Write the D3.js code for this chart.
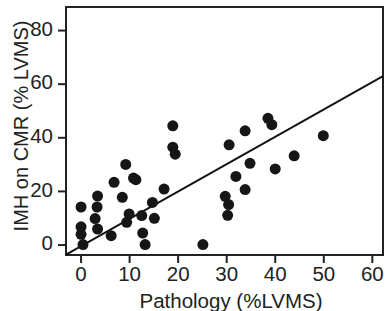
<!DOCTYPE html>
<html>
<head>
<meta charset="utf-8">
<script src="https://cdn.jsdelivr.net/npm/d3@7"></script>
<style>
  html, body { margin: 0; padding: 0; background: #fff; }
  svg { display: block; }
  text { font-family: "Liberation Sans", Arial, sans-serif; fill: #222; }
</style>
</head>
<body>
<svg id="chart" width="386" height="311"></svg>
<script>
// ---- data ----
const pathology = [19.0, 19.0, 19.5, 9.3, 6.9, 10.9, 11.4, 17.2, 3.5, 8.6,
                   0.1, 3.4, 14.8, 10.0, 3.0, 12.6, 15.2, 9.5, 0.1, 3.5,
                   0.1, 6.3, 12.8, 0.5, 13.3, 25.2, 38.6, 39.4, 33.9, 30.6,
                   44.0, 34.9, 40.1, 32.0, 33.9, 29.8, 30.5, 30.3, 50.0];
const imhCmr    = [44.3, 36.3, 33.7, 29.9, 23.2, 24.8, 24.2, 20.7, 18.1, 17.6,
                   14.0, 14.0, 15.7, 11.4, 9.7, 10.8, 9.8, 8.3, 6.6, 5.8,
                   3.8, 3.3, 4.3, 0.0, 0.0, 0.0, 47.1, 44.7, 42.4, 37.2,
                   33.1, 30.3, 28.2, 25.4, 20.5, 18.0, 14.9, 10.9, 40.6];
const xTicks = [0, 10, 20, 30, 40, 50, 60];
const yTicks = [0, 20, 40, 60, 80];
const fitSlope = 1.02;
const fitIntercept = -0.7;
const xTitle = "Pathology (%LVMS)";
const yTitle = "IMH on CMR (% LVMS)";

// ---- layout ----
const svg = d3.select("#chart");
const L = 66, R = 383, T = 7, B = 255;
const x = d3.scaleLinear().domain([-3.0, 62.3]).range([L, R]);
const y = d3.scaleLinear().domain([-3.9, 88.6]).range([B, T]);
const ink = "#222";

svg.append("defs").append("clipPath").attr("id", "clip")
  .append("rect").attr("x", L).attr("y", T).attr("width", R - L).attr("height", B - T);

// frame
svg.append("rect").attr("x", L).attr("y", T).attr("width", R - L).attr("height", B - T)
  .attr("fill", "none").attr("stroke", ink).attr("stroke-width", 2);

// axes
const xAxis = svg.append("g").attr("transform", `translate(0,${B})`)
  .call(d3.axisBottom(x).tickValues(xTicks).tickSize(8).tickPadding(3).tickFormat(d3.format("d")));
const yAxis = svg.append("g").attr("transform", `translate(${L},0)`)
  .call(d3.axisLeft(y).tickValues(yTicks).tickSize(8).tickPadding(5).tickFormat(d3.format("d")));
[xAxis, yAxis].forEach(g => {
  g.select(".domain").remove();
  g.selectAll(".tick line").attr("stroke", ink).attr("stroke-width", 2);
  g.selectAll(".tick text").attr("fill", ink).style("font-size", "20.5px")
    .style("font-family", '"Liberation Sans", Arial, sans-serif');
});
yAxis.selectAll(".tick text").attr("dy", "0.25em");
xAxis.selectAll(".tick text").attr("dy", "0.75em");

// regression line
const xd = x.domain();
svg.append("line").attr("clip-path", "url(#clip)")
  .attr("x1", x(xd[0])).attr("y1", y(fitIntercept + fitSlope * xd[0]))
  .attr("x2", x(xd[1])).attr("y2", y(fitIntercept + fitSlope * xd[1]))
  .attr("stroke", "#111").attr("stroke-width", 2);

// points
svg.append("g").attr("clip-path", "url(#clip)")
  .selectAll("circle").data(pathology.map((p, i) => [p, imhCmr[i]])).join("circle")
  .attr("cx", d => x(d[0])).attr("cy", d => y(d[1])).attr("r", 5.5)
  .attr("fill", "#161616");

// titles
svg.append("text").attr("x", 231).attr("y", 308).attr("text-anchor", "middle")
  .style("font-size", "20.5px").text(xTitle);
svg.append("text").attr("transform", "translate(28,126) rotate(-90)")
  .attr("text-anchor", "middle").style("font-size", "20px").text(yTitle);
</script>
</body>
</html>
